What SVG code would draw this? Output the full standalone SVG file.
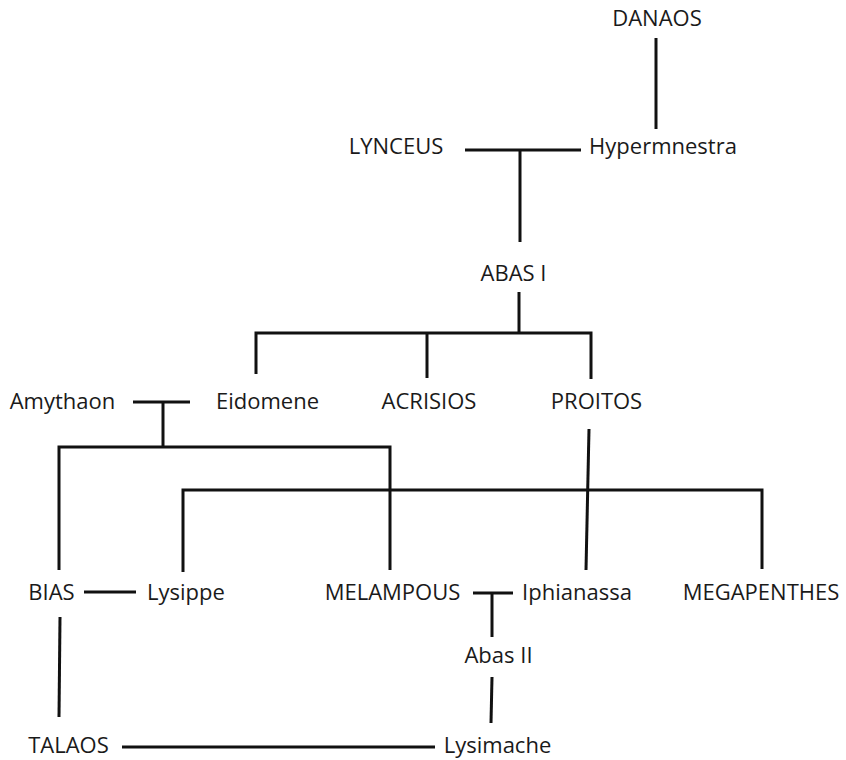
<svg xmlns="http://www.w3.org/2000/svg" width="846" height="760" viewBox="0 0 846 760">
<style>
  text { font-family: "Open Sans", "Liberation Sans", sans-serif; font-size: 22px; fill: #1a1a1a; text-anchor: middle; }
  .ln { fill: none; stroke: #111; stroke-width: 3; stroke-linejoin: miter; stroke-linecap: butt; }
</style>
<rect width="846" height="760" fill="#ffffff"/>
<g id="connectors">
  <path class="ln" d="M656 38 V129"/>
  <path class="ln" d="M465 150 H581"/>
  <path class="ln" d="M520 150 V242"/>
  <path class="ln" d="M519 292 V333"/>
  <path class="ln" d="M256 374 V333 H591 V379"/>
  <path class="ln" d="M427 333 V378"/>
  <path class="ln" d="M133 402 H190"/>
  <path class="ln" d="M163 402 V447"/>
  <path class="ln" d="M59 570 V447 H390 V570"/>
  <path class="ln" d="M183 572 V490 H762 V569"/>
  <path class="ln" d="M589 429 L586 570"/>
  <path class="ln" d="M84 592 H136"/>
  <path class="ln" d="M473 593 H513"/>
  <path class="ln" d="M492 593 V637"/>
  <path class="ln" d="M492 677 L491 723"/>
  <path class="ln" d="M60 617 L59 717"/>
  <path class="ln" d="M122 747 H435"/>
</g>
<g id="danaos"><text x="657" y="26">DANAOS</text></g>
<g id="lynceus"><text x="396" y="154">LYNCEUS</text></g>
<g id="hypermnestra"><text x="663" y="154">Hypermnestra</text></g>
<g id="abas1"><text x="513.5" y="281">ABAS I</text></g>
<g id="amythaon"><text x="62.5" y="409">Amythaon</text></g>
<g id="eidomene"><text x="267.5" y="409">Eidomene</text></g>
<g id="acrisios"><text x="429" y="409">ACRISIOS</text></g>
<g id="proitos"><text x="596.5" y="409">PROITOS</text></g>
<g id="bias"><text x="51.5" y="600">BIAS</text></g>
<g id="lysippe"><text x="186" y="600">Lysippe</text></g>
<g id="melampous"><text x="392.5" y="600">MELAMPOUS</text></g>
<g id="iphianassa"><text x="577" y="600">Iphianassa</text></g>
<g id="megapenthes"><text x="761" y="600">MEGAPENTHES</text></g>
<g id="abas2"><text x="498.5" y="663">Abas II</text></g>
<g id="talaos"><text x="68.5" y="753">TALAOS</text></g>
<g id="lysimache"><text x="497.5" y="753">Lysimache</text></g>
</svg>
